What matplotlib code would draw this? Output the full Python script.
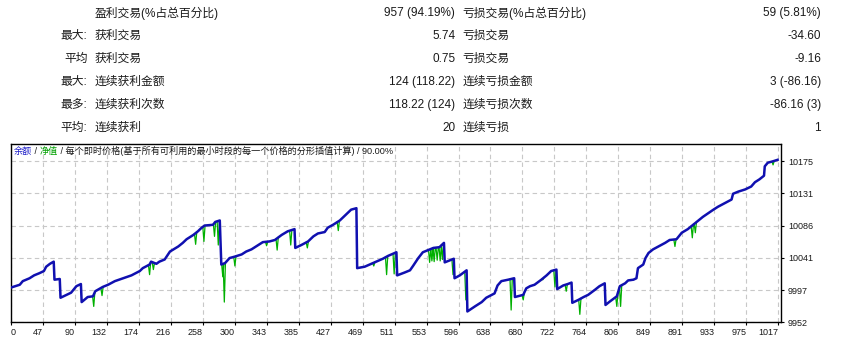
import numpy as np
import matplotlib.pyplot as plt

plt.rcParams['font.family'] = ['Liberation Sans', 'Noto Sans CJK SC', 'DejaVu Sans']

# summary table (MT4 strategy tester report)
row_prefix = ['', '最大:', '平均', '最大:', '最多:', '平均:']
win_labels = ['盈利交易(%占总百分比)', '获利交易', '获利交易', '连续获利金额', '连续获利次数', '连续获利']
win_values = ['957 (94.19%)', '5.74', '0.75', '124 (118.22)', '118.22 (124)', '20']
loss_labels = ['亏损交易(%占总百分比)', '亏损交易', '亏损交易', '连续亏损金额', '连续亏损次数', '连续亏损']
loss_values = ['59 (5.81%)', '-34.60', '-9.16', '3 (-86.16)', '-86.16 (3)', '1']

# balance curve (trade number, balance)
bal_idx = [0, 12, 16, 25, 31, 38, 44, 47, 52, 57, 58, 65, 66, 74, 80, 87, 93, 94, 102, 109,
           112, 122, 129, 138, 149, 160, 171, 175, 184, 186, 193, 197, 204, 211, 222, 228, 233,
           242, 248, 253, 257, 268, 271, 277, 279, 284, 290, 297, 306, 312, 319, 325, 334, 343,
           350, 359, 367, 376, 377, 385, 394, 401, 407, 416, 420, 427, 436, 443, 451, 458, 459,
           469, 482, 493, 500, 511, 512, 522, 529, 533, 540, 546, 553, 560, 568, 574, 575, 582,
           587, 588, 595, 604, 605, 615, 624, 630, 641, 645, 650, 659, 667, 668, 679, 683, 688,
           694, 703, 710, 716, 723, 724, 732, 738, 743, 744, 752, 759, 765, 774, 780, 787, 788,
           794, 803, 807, 814, 818, 825, 829, 831, 838, 841, 845, 851, 860, 867, 873, 882, 889,
           897, 904, 911, 917, 924, 931, 937, 946, 955, 957, 964, 973, 981, 986, 992, 998, 999,
           1003, 1010, 1016]
bal_val = [10000, 10004, 10009, 10013, 10017, 10020, 10023, 10029, 10033, 10036, 10011, 10012,
           9986, 9990, 9993, 10002, 10005, 9980, 9987, 9988, 9995, 10001, 10004, 10009, 10013,
           10017, 10023, 10027, 10032, 10036, 10033, 10036, 10039, 10050, 10057, 10062, 10067,
           10073, 10078, 10083, 10086, 10087, 10091, 10093, 10032, 10034, 10041, 10043, 10046,
           10050, 10053, 10057, 10063, 10064, 10066, 10073, 10078, 10081, 10055, 10059, 10064,
           10071, 10075, 10077, 10083, 10087, 10093, 10100, 10108, 10110, 10027, 10029, 10035,
           10040, 10044, 10049, 10017, 10021, 10024, 10030, 10041, 10049, 10052, 10055, 10056,
           10062, 10035, 10038, 10040, 10013, 10017, 10024, 9967, 9974, 9980, 9986, 9992, 10003,
           10009, 10011, 10013, 9987, 9990, 9999, 10002, 10004, 10011, 10017, 10023, 10025, 9998,
           10003, 10005, 10007, 9979, 9983, 9987, 9990, 9997, 10002, 10006, 9976, 9981, 9988,
           10002, 10006, 10010, 10011, 10013, 10027, 10032, 10041, 10048, 10053, 10058, 10062,
           10066, 10067, 10076, 10081, 10087, 10093, 10098, 10103, 10108, 10112, 10117, 10122,
           10130, 10133, 10136, 10140, 10146, 10150, 10155, 10168, 10173, 10175, 10177]

# equity drawdowns below balance (trade number, lowest equity)
dip_idx = [110, 121, 184, 189, 245, 256, 270, 275, 281, 283, 297, 339, 353, 371, 393, 434, 481,
           498, 508, 555, 558, 561, 565, 569, 572, 586, 603, 663, 679, 705, 721, 736, 754, 803,
           808, 880, 903, 907, 1010]
dip_val = [9974, 9989, 10018, 10025, 10060, 10064, 10071, 10059, 10015, 9980, 10030, 10058,
           10052, 10059, 10055, 10079, 10030, 10018, 10019, 10035, 10037, 10036, 10038, 10037,
           10039, 10018, 9983, 9969, 9983, 10011, 10001, 9995, 9963, 9974, 9974, 10057, 10069,
           10076, 10170]

x_tick_labels = ['0', '47', '90', '132', '174', '216', '258', '300', '343', '385', '427', '469',
                 '511', '553', '596', '638', '680', '722', '764', '806', '849', '891', '933',
                 '975', '1017']
y_tick_labels = ['9952', '9997', '10041', '10086', '10131', '10175']

W, H = 846, 344
fig = plt.figure(figsize=(W / 100, H / 100), dpi=100)
txt = '#1a1a1a'


def fy(py):
    return 1 - py / H


# table
row_y = [13.3, 35.7, 59, 81.7, 105, 127.7]
for i, y in enumerate(row_y):
    if row_prefix[i]:
        px = 60 if row_prefix[i].endswith(':') else 64
        fig.text(px / W, fy(y), row_prefix[i], fontsize=8.5, color=txt, va='center')
    fig.text(95 / W, fy(y), win_labels[i], fontsize=8.5, color=txt, va='center')
    fig.text(455.3 / W, fy(y), win_values[i], fontsize=8.5, color=txt, va='center', ha='right')
    fig.text(462.3 / W, fy(y), loss_labels[i], fontsize=8.5, color=txt, va='center')
    fig.text(821 / W, fy(y), loss_values[i], fontsize=8.5, color=txt, va='center', ha='right')

# chart
ax = fig.add_axes([10.7 / W, fy(322.3), (781 - 10.7) / W, (322.3 - 143.5) / H])
ax.set_xlim(0, 1020.5)
ax.set_ylim(9952, 10199.6)
ax.set_xticks(np.arange(len(x_tick_labels)) * 42.375)
ax.set_xticklabels(x_tick_labels)
ax.set_yticks(9952 + 44.6 * np.arange(len(y_tick_labels)))
ax.set_yticklabels(y_tick_labels)
ax.yaxis.tick_right()
ax.tick_params(axis='both', direction='out', length=2, width=0.8, labelsize=6.5,
               colors='black', labelcolor=txt)
ax.tick_params(axis='x', pad=2)
ax.tick_params(axis='y', pad=3)
for k, lbl in enumerate(ax.get_xticklabels()):
    lbl.set_ha('left' if k == 0 else 'right')
for s in ax.spines.values():
    s.set_color('black')
    s.set_linewidth(1.0)
ax.set_axisbelow(True)
ax.grid(True, color='#c8c8c8', linestyle=(0, (4, 3)), linewidth=0.8)

# equity: follows balance, with short dips
eq_x, eq_y = [], []
for i, v in zip(dip_idx, dip_val):
    base_l = np.interp(i - 1.5, bal_idx, bal_val)
    base_r = np.interp(i + 1.5, bal_idx, bal_val)
    eq_x += [i - 1.5, i, i + 1.5, np.nan]
    eq_y += [base_l, v, base_r, np.nan]
ax.plot(eq_x, eq_y, color='#00b000', linewidth=0.9, zorder=2)
ax.plot(bal_idx, bal_val, color='#1010b0', linewidth=1.8, zorder=3)

# header inside the chart with coloured words
parts = [('余额', '#1c1cc8'), (' / ', txt), ('净值', '#00a000'),
         (' / 每个即时价格(基于所有可利用的最小时段的每一个价格的分形插值计算) / 90.00%', txt)]
prev = fig.text(14 / W, fy(151.7), parts[0][0], color=parts[0][1], fontsize=6.6, va='center')
for s, c in parts[1:]:
    prev = ax.annotate(s, xy=(1, 0), xycoords=prev, va='bottom', ha='left',
                       fontsize=6.6, color=c, annotation_clip=False)

fig.savefig('out.png', dpi=100, facecolor='white')
